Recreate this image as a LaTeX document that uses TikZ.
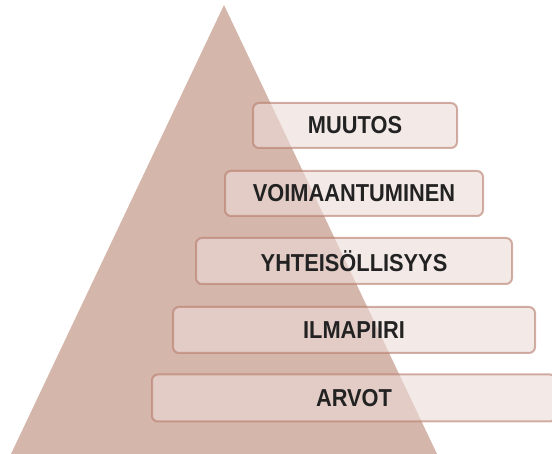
\documentclass[tikz,border=0pt]{standalone}
\usepackage{fontspec}
\setmainfont{Liberation Sans}
\definecolor{pyramid}{HTML}{D5B6AA}
\definecolor{boxfill}{HTML}{EBDCD7}
\definecolor{boxline}{HTML}{B77B6B}
\definecolor{labeltext}{HTML}{222222}
% narrow bold caption text
\newcommand\narrowcap[1]{\scalebox{0.89}[1]{#1}}
\tikzset{
  level/.style={draw=boxline, draw opacity=0.6, fill=boxfill, fill opacity=0.6,
    text opacity=1, line width=2pt, rounded corners=6pt, inner sep=0pt,
    minimum height=45pt, text=labeltext,
    font=\fontsize{24.5}{28}\selectfont\bfseries}
}
\begin{document}
\begin{tikzpicture}[x=1pt, y=-1pt]
  \useasboundingbox (0,0) rectangle (552,454);
  \clip (0,0) rectangle (552,454);
  % the pyramid behind the levels
  \coordinate (apex) at (224,5);
  \coordinate (baseL) at (11,454);
  \coordinate (baseR) at (437,454);
  \fill[pyramid] (baseL) -- (apex) -- (baseR) -- cycle;
  % levels, top to bottom
  \node[level, minimum width=204pt] (muutos) at (355,125.5) {\narrowcap{MUUTOS}};
  \node[level, minimum width=258pt] (voima) at (354,193.5) {\narrowcap{VOIMAANTUMINEN}};
  \node[level, minimum width=316pt, minimum height=46pt] (yhteis) at (354,261) {\narrowcap{YHTEISÖLLISYYS}};
  \node[level, minimum width=362pt, minimum height=46pt] (ilma) at (354,330) {\narrowcap{ILMAPIIRI}};
  \node[level, minimum width=404pt, minimum height=47pt] (arvot) at (354,398) {\narrowcap{ARVOT}};
\end{tikzpicture}
\end{document}
